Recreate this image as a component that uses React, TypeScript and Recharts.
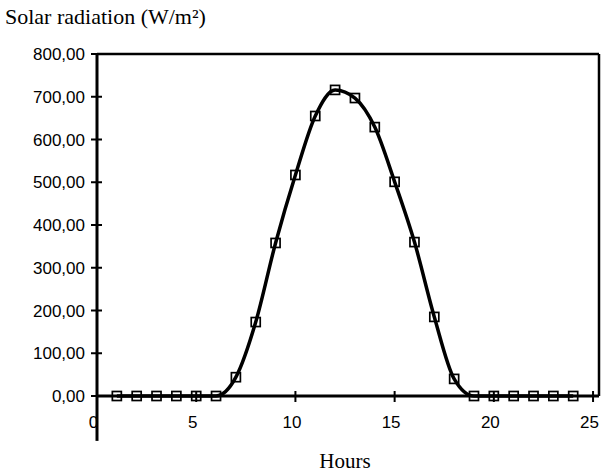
import React from "react"
import {
  LineChart,
  Line,
  XAxis,
  YAxis,
  ReferenceLine,
} from "recharts"

const hours = [1, 2, 3, 4, 5, 6, 7, 8, 9, 10, 11, 12, 13, 14, 15, 16, 17, 18, 19, 20, 21, 22, 23, 24]
const radiation = [0, 0, 0, 0, 0, 0, 44, 173, 358, 517, 655, 716, 697, 629, 501, 360, 185, 40, 0, 0, 0, 0, 0, 0]
const xTicks = [0, 5, 10, 15, 20, 25]
const yTicks = [0, 100, 200, 300, 400, 500, 600, 700, 800]

const data = hours.map((h, i) => ({ hour: h, value: radiation[i] }))

const sans = "'Liberation Sans', Arial, Helvetica, sans-serif"
const serif = "'Liberation Serif', 'Times New Roman', serif"

function formatComma(v: number) {
  return v.toFixed(2).replace(".", ",")
}

function XTick(props: any) {
  const { x, y, payload } = props
  return (
    <g>
      <line x1={x} x2={x} y1={y - 5} y2={y + 6} stroke="#000" strokeWidth={2} />
      <text
        x={x - 3.5}
        y={y + 32}
        textAnchor="middle"
        fontFamily={sans}
        fontSize={17}
        fill="#000"
      >
        {payload.value}
      </text>
    </g>
  )
}

function YTick(props: any) {
  const { x, y, payload } = props
  return (
    <g>
      <line x1={x - 6} x2={x + 5} y1={y} y2={y} stroke="#000" strokeWidth={2} />
      <text
        x={x - 12}
        y={y + 6}
        textAnchor="end"
        fontFamily={sans}
        fontSize={17}
        fill="#000"
      >
        {formatComma(payload.value)}
      </text>
    </g>
  )
}

function SquareDot(props: any) {
  const { cx, cy } = props
  if (cx == null || cy == null) return null
  return (
    <rect
      x={cx - 4.5}
      y={cy - 4.5}
      width={9}
      height={9}
      fill="none"
      stroke="#000"
      strokeWidth={1.7}
    />
  )
}

export default function App() {
  return (
    <div style={{ position: "absolute", left: 0, top: 0, width: 601, height: 474, background: "#fff" }}>
      <div
        style={{
          position: "absolute",
          left: 5,
          top: 4,
          fontFamily: serif,
          fontSize: 22,
          color: "#000",
          whiteSpace: "nowrap",
        }}
      >
        Solar radiation (W/m²)
      </div>
      <LineChart
        width={601}
        height={474}
        data={data}
        margin={{ top: 54, right: 2, bottom: 48, left: 7 }}
      >
        <XAxis
          dataKey="hour"
          type="number"
          domain={[0, 25.3]}
          ticks={xTicks}
          interval={0}
          height={30}
          tickSize={0}
          tickMargin={0}
          tickLine={false}
          tick={<XTick />}
          axisLine={{ stroke: "#000", strokeWidth: 3 }}
        />
        <YAxis
          type="number"
          domain={[0, 800]}
          ticks={yTicks}
          interval={0}
          width={90}
          tickSize={0}
          tickMargin={0}
          tickLine={false}
          tick={<YTick />}
          axisLine={{ stroke: "#000", strokeWidth: 3 }}
        />
        <ReferenceLine y={800} stroke="#000" strokeWidth={2.5} ifOverflow="visible" />
        <ReferenceLine x={25.3} stroke="#000" strokeWidth={2.5} ifOverflow="visible" />
        <ReferenceLine
          segment={[
            { x: 0, y: 0 },
            { x: 0, y: -105 },
          ]}
          stroke="#000"
          strokeWidth={3}
          ifOverflow="visible"
        />
        <Line
          type="monotone"
          dataKey="value"
          stroke="#000"
          strokeWidth={3.5}
          dot={<SquareDot />}
          activeDot={false}
          isAnimationActive={false}
        />
      </LineChart>
      <div
        style={{
          position: "absolute",
          left: 0,
          width: 690,
          top: 449,
          textAlign: "center",
          fontFamily: serif,
          fontSize: 21,
          color: "#000",
        }}
      >
        Hours
      </div>
    </div>
  )
}
